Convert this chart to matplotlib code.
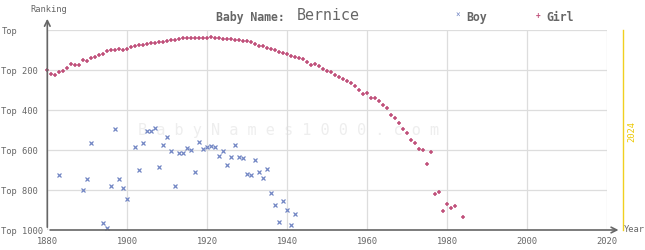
import matplotlib
matplotlib.use("Agg")
import matplotlib.pyplot as plt

# Girl ranking for "Bernice"
girl_years = list(range(1880, 1983)) + [1984]
girl_rank = [202, 220, 227, 212, 207, 192, 170, 177, 177, 152,
             157, 142, 137, 127, 122, 107, 102, 102, 97, 102,
             96, 85, 80, 75, 75, 70, 65, 65, 60, 60,
             55, 50, 50, 45, 40, 40, 40, 40, 40, 40,
             41, 35, 42, 42, 47, 47, 47, 52, 52, 57,
             57, 62, 72, 82, 82, 92, 97, 102, 112, 117,
             122, 132, 137, 142, 147, 162, 177, 172, 182, 197,
             207, 212, 227, 237, 247, 257, 267, 282, 302, 322,
             317, 342, 342, 357, 377, 392, 427, 442, 467, 497,
             517, 552, 567, 597, 601, 672, 612, 822, 812, 907,
             872, 892, 882, 937]

# Boy ranking
boy_years = [1883, 1889, 1890, 1891, 1894, 1895, 1896, 1897, 1898, 1899,
             1900, 1902, 1903, 1904, 1905, 1906, 1907, 1908, 1909, 1910,
             1911, 1912, 1913, 1914, 1915, 1916, 1917, 1918, 1919, 1920,
             1921, 1922, 1923, 1924, 1925, 1926, 1927, 1928, 1929, 1930,
             1931, 1932, 1933, 1934, 1935, 1936, 1937, 1938, 1939, 1940,
             1941, 1942]
boy_rank = [727, 802, 747, 567, 967, 992, 782, 497, 747, 792,
            847, 587, 702, 567, 507, 507, 492, 687, 577, 537,
            607, 782, 617, 617, 592, 602, 712, 562, 597, 587,
            582, 587, 632, 607, 677, 637, 577, 637, 642, 722,
            727, 652, 712, 742, 697, 817, 877, 962, 857, 902,
            977, 922]

x_ticks = [1880, 1900, 1920, 1940, 1960, 1980, 2000, 2020]
y_ticks = [0, 200, 400, 600, 800, 1000]
y_labels = ["Top", "Top 200", "Top 400", "Top 600", "Top 800", "Top 1000"]

mono = "DejaVu Sans Mono"
grey = "#666666"
girl_color = "#c0507a"
boy_color = "#7286c4"

fig = plt.figure(figsize=(6.45, 2.5), dpi=100)
ax = fig.add_axes([47.3 / 645, 20 / 250, 560 / 645, 200 / 250])

ax.set_xlim(1880, 2020)
ax.set_ylim(1000, 0)
ax.set_xticks(x_ticks)
ax.set_yticks(y_ticks)
ax.set_xticklabels([str(t) for t in x_ticks], family=mono, fontsize=6.3, color=grey)
ax.set_yticklabels(y_labels, family=mono, fontsize=6.3, color=grey, ha="left")
ax.tick_params(axis="y", length=0, pad=33)
ax.tick_params(axis="x", length=0, pad=5)
ax.grid(True, color="#dddddd", linewidth=0.9)
ax.set_axisbelow(True)
for s in ["top", "right", "left", "bottom"]:
    ax.spines[s].set_visible(False)

# axis arrows
ax.annotate("", xy=(0, 1.07), xytext=(0, 0), xycoords="axes fraction",
            arrowprops=dict(arrowstyle="->", color=grey, lw=1.2))
ax.annotate("", xy=(1.025, 0), xytext=(0, 0), xycoords="axes fraction",
            arrowprops=dict(arrowstyle="->", color=grey, lw=1.2))
fig.text(49 / 645, 1 - 9 / 250, "Ranking", family=mono, fontsize=6.3,
         color=grey, ha="center", va="center")
fig.text(624 / 645, 1 - 230 / 250, "Year", family=mono, fontsize=6.3,
         color=grey, ha="left", va="center")

# current year line
ax.plot([2024, 2024], [0, 1000], color="#f0d020", lw=1.0, clip_on=False)
fig.text(632 / 645, 1 - 131 / 250, "2024", family=mono, fontsize=6.3,
         color="#ecc800", rotation=90, ha="center", va="center")

# watermark
ax.text(0.43, 0.5, " ".join("BabyNames1000.com"), transform=ax.transAxes,
        family=mono, fontsize=11, color="#eeeeee", ha="center", va="center",
        zorder=0)

ax.plot(boy_years, boy_rank, linestyle="none", marker="x", markersize=2.8,
        markeredgewidth=0.9, color=boy_color, clip_on=False)
ax.plot(girl_years, girl_rank, linestyle="none", marker="+", markersize=3.4,
        markeredgewidth=1.1, color=girl_color, clip_on=False)

# title
fig.text(250 / 645, 1 - 17 / 250, "Baby Name:", family=mono, fontsize=8.3,
         fontweight="bold", color=grey, ha="center", va="center")
fig.text(328 / 645, 1 - 16 / 250, "Bernice", family=mono, fontsize=10.8,
         color=grey, ha="center", va="center")

# legend
fig.text(458 / 645, 1 - 15 / 250, "×", family=mono, fontsize=5.5,
         color=boy_color, ha="center", va="center")
fig.text(466 / 645, 1 - 17 / 250, "Boy", family=mono, fontsize=8.3,
         fontweight="bold", color=grey, ha="left", va="center")
fig.text(538 / 645, 1 - 15 / 250, "+", family=mono, fontsize=5.5,
         fontweight="bold", color=girl_color, ha="center", va="center")
fig.text(546 / 645, 1 - 17 / 250, "Girl", family=mono, fontsize=8.3,
         fontweight="bold", color=grey, ha="left", va="center")

fig.savefig("out.png", dpi=100)
